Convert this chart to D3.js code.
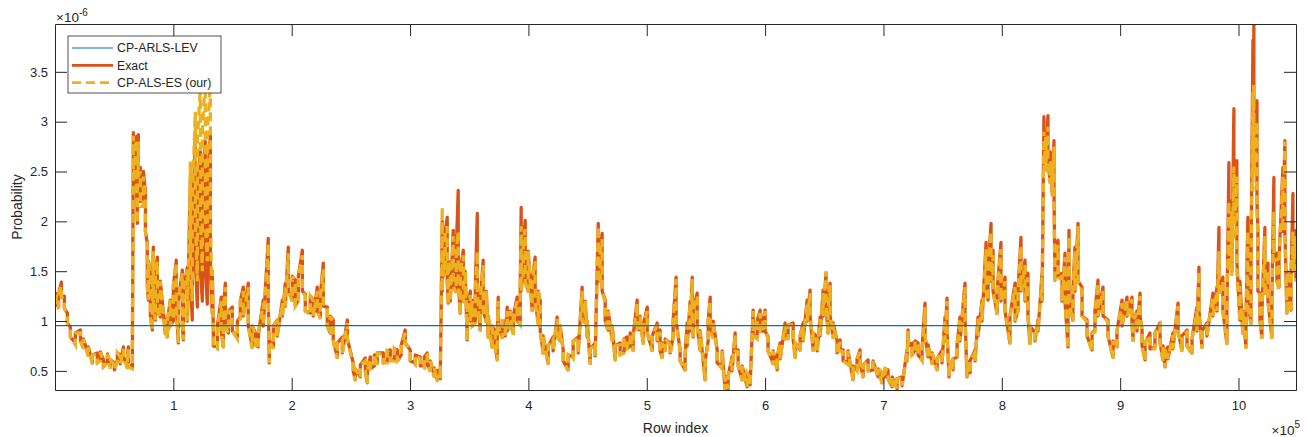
<!DOCTYPE html>
<html>
<head>
<meta charset="utf-8">
<script src="https://cdn.jsdelivr.net/npm/d3@7"></script>
<style>
    body { margin: 0; background: #fff; }
    svg { display: block; font-family: 'Liberation Sans', Arial, sans-serif; }
    .axis path, .axis line { stroke: #262626; }
    .axis text { fill: #262626; font-size: 13px; }
    .label { fill: #262626; }
</style>
</head>
<body>
<svg id="chart"></svg>
<script>
// row index in thousands, probabilities in units of 1e-6
// each column has the value read at that row and the opposite edge of the band
// (the series oscillates so fast that every pixel column is a vertical run)
const rowIndex = [
    1, 3, 5.4, 7.9, 10.5, 13, 17.2, 21.5, 24, 28.2,
    31.6, 35.8, 38.3, 40.9, 44.3, 46.8, 50.2, 52.7, 55.2, 57.8,
    61.2, 62, 65.4, 66.2, 67.9, 68.8, 69.6, 70.4, 72.1, 74.7,
    76.4, 78, 78.9, 80.6, 82.3, 83.1, 84.8, 86.5, 89, 93.2,
    94.9, 97.5, 100, 102.5, 104.2, 107.6, 108.5, 111.8, 114.4, 116,
    118.6, 120.3, 122.8, 124.5, 127, 128.7, 131.3, 132.9, 133.8, 137.2,
    140.5, 142.2, 143.9, 146.5, 149.8, 154.1, 156.6, 159.1, 163.3, 166.7,
    169.3, 171.8, 176, 180.2, 181.1, 184.5, 187.8, 192.1, 194.6, 197.1,
    200.5, 203, 205.6, 209, 211.5, 215.7, 218.3, 221.6, 224.2, 226.7,
    230.1, 232.6, 235.1, 238.5, 242.8, 247, 252, 253.7, 258, 262.2,
    263.9, 266.4, 269.8, 272.3, 277.4, 280.8, 283.3, 286.7, 289.2, 292.6,
    295.9, 300.2, 304.4, 308.6, 312, 314.5, 317.1, 320.5, 323, 325.5,
    327.2, 328, 329.7, 331.4, 332.3, 334, 336.5, 339, 340.7, 342.4,
    345, 346.6, 348.3, 350.9, 352.5, 355.1, 356.8, 359.3, 361.8, 364.4,
    366.1, 369.4, 372, 373.7, 374.5, 377.9, 380.4, 382.1, 384.6, 387.2,
    390.5, 393.1, 393.9, 395.6, 397.3, 399.8, 403.2, 405.7, 408.3, 410,
    412.5, 416.7, 420.9, 424.3, 426.9, 429.4, 433.6, 437.8, 442.1, 445.4,
    448, 449.7, 452.2, 456.4, 459, 460.7, 462.3, 464.9, 467.4, 470.8,
    473.3, 477.5, 480.9, 483.5, 486, 488.5, 491.9, 494.4, 497, 500.4,
    504.6, 508.8, 511.3, 513, 515.6, 519.8, 522.3, 524.8, 528.2, 532.4,
    534.1, 536.7, 538.4, 539.2, 542.6, 545.1, 549.3, 551.9, 553.6, 556.1,
    559.5, 563.7, 566.2, 568.8, 572.1, 574.7, 577.2, 580.6, 584.8, 587.3,
    589.9, 593.3, 595.8, 598.3, 600, 602.5, 606.8, 610.2, 612.7, 616.9,
    619.4, 623.7, 625.4, 629.6, 632.1, 635.5, 638, 640.6, 644, 646.5,
    649, 651.5, 653.2, 654.9, 657.5, 660.8, 663.4, 665.9, 670.1, 674.3,
    677.7, 680.2, 682.8, 687, 691.2, 695.5, 698.8, 701.4, 703.9, 707.3,
    711.5, 715.7, 719.9, 720.8, 724.2, 726.7, 729.2, 732.6, 735.1, 737.7,
    741.1, 745.3, 749.5, 752, 753.7, 755.4, 758.8, 762.2, 764.7, 768.9,
    770.6, 773.2, 777.4, 779.9, 783.3, 786.7, 788.4, 790.9, 792.6, 796,
    799.3, 802.7, 806.9, 811.2, 813.7, 816.2, 819.6, 822.1, 823.8, 828,
    830.6, 834, 835.6, 837.3, 839, 840.7, 842.4, 844.1, 844.9, 847.5,
    850.9, 853.4, 855.9, 856.8, 860.1, 861.8, 864.4, 867.8, 872, 876.2,
    878.7, 881.3, 885.5, 889.7, 894, 897.3, 901.6, 905.8, 910, 910.9,
    914.2, 916.8, 918.5, 921, 925.2, 929.4, 933.7, 936.2, 937.9, 940.4,
    944.6, 948.9, 952.2, 956.5, 960.7, 964.9, 966.6, 969.1, 973.3, 978.4,
    981.8, 983.5, 986.8, 990.2, 991.9, 994.4, 996.1, 998.6, 1001.2, 1003.7,
    1006.3, 1007.9, 1010.5, 1012.2, 1013, 1015.6, 1016.4, 1018.1, 1019.8, 1022.3,
    1024.9, 1028.2, 1029.9, 1032.5, 1034.2, 1037.5, 1039.2, 1040.9, 1044.3, 1046,
    1048.5
]

const exactProb = [
    1.29, 1.14, 1.39, 1.25, 1.08, 0.94, 0.78, 0.91, 0.74, 0.66,
    0.58, 0.68, 0.62, 0.61, 0.60, 0.54, 0.58, 0.61, 0.66, 0.74,
    0.54, 0.74, 0.54, 2.89, 2.6, 2.85, 1.98, 2.87, 2.54, 2.21,
    2.3, 1.78, 1.21, 1.5, 0.91, 1.74, 1.01, 1.64, 1.04, 0.88,
    0.84, 1.21, 1.0, 1.61, 0.78, 1.51, 0.81, 1.54, 2.41, 1.01,
    2.88, 1.14, 2.7, 1.2, 2.8, 1.17, 2.86, 1.08, 0.91, 0.74,
    1.24, 0.74, 1.38, 0.88, 1.14, 0.84, 1.04, 1.34, 1.38, 0.74,
    0.88, 0.74, 1.21, 1.83, 0.58, 0.74, 1.01, 1.21, 1.38, 1.74,
    1.21, 1.41, 1.21, 1.71, 1.27, 1.08, 1.21, 1.34, 1.04, 1.58,
    1.14, 0.88, 1.01, 0.64, 0.84, 1.01, 0.58, 0.41, 0.44, 0.63,
    0.38, 0.64, 0.55, 0.58, 0.68, 0.6, 0.71, 0.62, 0.71, 0.66,
    0.91, 0.71, 0.58, 0.64, 0.55, 0.68, 0.51, 0.45, 0.41, 0.51,
    2.0, 1.74, 1.6, 2.04, 1.18, 1.5, 1.91, 1.3, 2.31, 1.08,
    1.71, 1.2, 0.81, 1.3, 1.21, 1.0, 2.08, 0.91, 1.61, 1.0,
    0.84, 0.74, 0.9, 0.61, 1.24, 0.84, 1.0, 1.14, 0.95, 0.88,
    1.24, 0.98, 2.14, 1.5, 2.01, 1.31, 1.11, 1.64, 0.98, 1.2,
    0.68, 0.58, 0.84, 1.04, 0.8, 0.71, 0.51, 0.64, 0.84, 1.34,
    1.0, 0.84, 0.58, 0.78, 1.98, 1.4, 1.88, 1.21, 0.91, 0.81,
    0.61, 0.78, 0.7, 0.84, 0.75, 0.71, 1.21, 0.91, 0.78, 1.14,
    0.71, 0.98, 0.91, 0.64, 0.71, 0.78, 0.84, 1.44, 0.71, 0.51,
    0.98, 1.2, 1.44, 0.84, 1.28, 0.71, 0.41, 0.8, 1.24, 0.84,
    0.71, 0.54, 0.31, 0.31, 0.64, 0.88, 0.71, 0.41, 0.34, 0.44,
    1.11, 0.84, 1.11, 0.9, 1.11, 0.84, 0.58, 0.51, 0.78, 0.98,
    0.84, 0.98, 0.64, 0.71, 0.98, 1.21, 1.31, 0.71, 0.84, 1.04,
    1.31, 1.48, 0.88, 1.38, 0.84, 0.8, 0.81, 0.71, 0.58, 0.41,
    0.51, 0.71, 0.44, 0.61, 0.51, 0.44, 0.38, 0.44, 0.51, 0.34,
    0.32, 0.44, 0.71, 0.91, 0.78, 0.71, 0.78, 0.61, 1.18, 0.64,
    0.58, 0.51, 0.71, 1.04, 1.23, 0.44, 0.51, 0.64, 1.04, 1.38,
    0.44, 0.48, 0.71, 1.04, 1.21, 1.79, 1.21, 1.98, 1.71, 1.08,
    1.79, 1.44, 0.78, 1.38, 1.11, 1.84, 1.61, 1.48, 0.78, 0.88,
    1.01, 1.48, 3.05, 2.9, 3.06, 2.41, 2.6, 2.81, 1.41, 1.81,
    1.48, 1.68, 0.74, 1.91, 1.01, 1.74, 1.98, 1.34, 1.01, 0.71,
    0.91, 1.41, 1.34, 1.01, 0.64, 0.74, 1.21, 1.24, 1.24, 0.81,
    1.1, 1.28, 0.91, 0.61, 0.88, 0.74, 0.98, 0.61, 0.54, 0.74,
    0.88, 1.18, 0.71, 0.91, 0.68, 1.14, 1.54, 0.74, 0.98, 1.28,
    1.34, 1.94, 1.44, 0.78, 2.59, 2.21, 3.13, 2.61, 1.01, 0.88,
    0.74, 2.04, 0.98, 3.82, 3.98, 3.21, 1.91, 1.28, 0.84, 1.94,
    1.58, 0.84, 2.44, 1.68, 1.34, 2.54, 2.81, 1.08, 1.11, 2.28,
    1.91
]

const exactProbEdge = [
    1.18, 1.27, 1.24, 1.13, 0.98, 0.84, 0.88, 0.80, 0.82, 0.74,
    0.66, 0.58, 0.69, 0.54, 0.67, 0.61, 0.51, 0.68, 0.57, 0.64,
    0.66, 0.56, 0.72, 2.5, 2.8, 2.4, 2.4, 2.5, 2.2, 2.5,
    1.9, 1.35, 1.6, 1.05, 1.3, 1.2, 1.5, 1.1, 1.4, 1.02,
    1.0, 0.95, 1.35, 1.15, 1.2, 0.95, 1.3, 1.0, 1.4, 1.9,
    1.6, 2.3, 1.5, 2.4, 1.5, 2.4, 1.5, 1.5, 0.75, 0.95,
    0.9, 1.1, 0.95, 1.1, 0.9, 1.0, 1.2, 1.05, 0.95, 0.95,
    0.76, 0.86, 0.95, 1.2, 0.8, 0.95, 0.85, 1.05, 1.15, 1.3,
    1.45, 1.15, 1.45, 1.3, 1.1, 1.25, 1.05, 1.1, 1.25, 1.15,
    0.95, 1.05, 0.8, 0.78, 0.68, 0.82, 0.5, 0.52, 0.56, 0.5,
    0.5, 0.52, 0.66, 0.68, 0.58, 0.7, 0.6, 0.72, 0.6, 0.76,
    0.78, 0.6, 0.66, 0.55, 0.64, 0.56, 0.6, 0.53, 0.5, 0.42,
    1.3, 1.45, 1.9, 1.4, 1.6, 1.2, 1.35, 1.7, 1.4, 1.5,
    1.2, 1.5, 1.1, 1.0, 0.95, 1.3, 1.3, 1.2, 1.1, 1.3,
    1.05, 0.95, 0.75, 0.85, 0.95, 1.0, 0.85, 0.9, 1.1, 1.05,
    1.0, 1.3, 1.3, 1.8, 1.4, 1.7, 1.4, 1.2, 1.3, 0.9,
    0.85, 0.75, 0.7, 0.85, 0.95, 0.6, 0.66, 0.8, 0.68, 1.0,
    1.2, 1.0, 0.72, 0.65, 1.4, 1.7, 1.3, 1.0, 1.1, 0.95,
    0.75, 0.66, 0.82, 0.72, 0.88, 0.85, 0.92, 1.05, 0.95, 0.88,
    0.85, 0.8, 0.7, 0.78, 0.82, 0.68, 1.0, 1.0, 0.6, 0.66,
    0.75, 0.9, 1.0, 1.1, 0.95, 0.9, 0.6, 1.0, 0.9, 1.0,
    0.58, 0.7, 0.45, 0.45, 0.5, 0.7, 0.55, 0.55, 0.48, 0.36,
    0.85, 1.0, 0.9, 1.0, 0.9, 0.7, 0.7, 0.64, 0.62, 0.82,
    0.96, 0.82, 0.78, 0.85, 0.8, 1.0, 1.05, 0.88, 0.7, 0.85,
    1.05, 1.15, 1.1, 1.05, 0.98, 0.68, 0.7, 0.6, 0.7, 0.55,
    0.62, 0.58, 0.56, 0.5, 0.6, 0.52, 0.48, 0.52, 0.42, 0.44,
    0.42, 0.35, 0.6, 0.75, 0.66, 0.8, 0.66, 0.72, 0.85, 0.76,
    0.68, 0.62, 0.58, 0.8, 0.9, 0.6, 0.62, 0.76, 0.8, 1.05,
    0.6, 0.6, 0.6, 0.85, 1.0, 1.3, 1.5, 1.4, 1.3, 1.3,
    1.2, 1.1, 1.05, 1.0, 1.3, 1.3, 1.2, 1.05, 0.95, 0.8,
    0.9, 1.2, 2.6, 2.6, 2.6, 2.7, 2.3, 2.3, 1.7, 1.45,
    1.2, 1.2, 1.1, 1.2, 1.3, 1.3, 1.4, 1.05, 0.85, 0.88,
    1.1, 1.05, 1.05, 0.85, 0.8, 0.9, 0.95, 1.05, 0.98, 1.0,
    0.9, 1.05, 0.75, 0.78, 0.72, 0.88, 0.78, 0.75, 0.7, 0.62,
    0.72, 0.9, 0.85, 0.75, 0.82, 0.9, 1.1, 0.9, 0.85, 1.05,
    1.1, 1.3, 1.1, 1.1, 1.6, 1.5, 2.0, 1.6, 1.4, 1.1,
    1.0, 1.2, 1.5, 2.5, 2.7, 2.2, 1.3, 1.0, 1.1, 1.3,
    1.2, 1.2, 1.6, 1.4, 1.6, 1.9, 1.9, 1.5, 1.4, 1.5,
    1.4
]

const esProb = [
    1.26, 1.12, 1.35, 1.22, 1.05, 0.92, 0.76, 0.88, 0.72, 0.64,
    0.56, 0.66, 0.6, 0.59, 0.58, 0.52, 0.56, 0.59, 0.64, 0.72,
    0.52, 0.72, 0.52, 2.86, 2.55, 2.82, 1.98, 2.8, 2.5, 2.15,
    2.25, 1.75, 1.21, 1.45, 0.91, 1.7, 1.01, 1.6, 1.04, 0.86,
    0.82, 1.21, 1.0, 1.58, 0.78, 1.48, 0.81, 1.52, 2.6, 1.2,
    3.1, 1.4, 3.35, 1.5, 3.45, 1.6, 3.38, 1.08, 0.91, 0.72,
    1.2, 0.72, 1.34, 0.88, 1.1, 0.82, 1.02, 1.3, 1.34, 0.72,
    0.86, 0.72, 1.18, 1.78, 0.58, 0.72, 1.0, 1.18, 1.34, 1.68,
    1.2, 1.38, 1.2, 1.66, 1.25, 1.06, 1.2, 1.3, 1.02, 1.52,
    1.12, 0.86, 0.98, 0.62, 0.82, 0.98, 0.56, 0.4, 0.43, 0.6,
    0.37, 0.62, 0.53, 0.56, 0.66, 0.58, 0.68, 0.6, 0.68, 0.64,
    0.88, 0.69, 0.56, 0.62, 0.53, 0.66, 0.49, 0.43, 0.39, 0.5,
    2.14, 1.7, 1.58, 1.95, 1.16, 1.46, 1.85, 1.28, 1.9, 1.06,
    1.66, 1.18, 0.8, 1.26, 1.2, 0.98, 1.7, 0.9, 1.56, 0.98,
    0.82, 0.72, 0.88, 0.6, 1.2, 0.82, 0.98, 1.1, 0.93, 0.86,
    1.2, 0.96, 1.95, 1.46, 1.92, 1.28, 1.09, 1.6, 0.96, 1.18,
    0.66, 0.56, 0.82, 1.02, 0.78, 0.69, 0.5, 0.62, 0.82, 1.3,
    0.98, 0.82, 0.56, 0.76, 1.95, 1.38, 1.82, 1.18, 0.89, 0.79,
    0.6, 0.76, 0.68, 0.82, 0.73, 0.69, 1.18, 0.89, 0.76, 1.1,
    0.69, 0.96, 0.89, 0.62, 0.69, 0.76, 0.82, 1.42, 0.69, 0.5,
    0.96, 1.18, 1.42, 0.82, 1.25, 0.69, 0.4, 0.78, 1.2, 0.82,
    0.69, 0.52, 0.31, 0.32, 0.62, 0.86, 0.69, 0.4, 0.34, 0.43,
    1.1, 0.82, 1.08, 0.88, 1.1, 0.82, 0.56, 0.5, 0.76, 0.96,
    0.82, 0.96, 0.62, 0.69, 0.96, 1.18, 1.28, 0.69, 0.82, 1.02,
    1.28, 1.5, 0.86, 1.36, 0.82, 0.78, 0.79, 0.69, 0.56, 0.4,
    0.5, 0.69, 0.43, 0.6, 0.5, 0.43, 0.37, 0.43, 0.5, 0.33,
    0.32, 0.43, 0.69, 0.9, 0.76, 0.69, 0.76, 0.6, 1.14, 0.62,
    0.56, 0.5, 0.69, 1.02, 1.2, 0.43, 0.5, 0.62, 1.02, 1.34,
    0.43, 0.47, 0.69, 1.02, 1.18, 1.72, 1.2, 1.9, 1.66, 1.06,
    1.72, 1.4, 0.76, 1.34, 1.09, 1.75, 1.56, 1.44, 0.76, 0.86,
    0.99, 1.44, 2.9, 2.85, 2.95, 2.38, 2.55, 2.75, 1.38, 1.76,
    1.45, 1.64, 0.72, 1.85, 0.99, 1.7, 1.95, 1.3, 0.99, 0.69,
    0.89, 1.38, 1.3, 0.99, 0.62, 0.72, 1.18, 1.22, 1.22, 0.79,
    1.08, 1.25, 0.89, 0.6, 0.86, 0.72, 0.96, 0.6, 0.53, 0.72,
    0.86, 1.15, 0.69, 0.89, 0.66, 1.1, 1.5, 0.72, 0.96, 1.24,
    1.3, 1.7, 1.4, 0.76, 2.2, 2.1, 2.55, 2.45, 0.99, 0.86,
    0.72, 1.9, 0.96, 3.3, 3.38, 3.0, 1.85, 1.25, 0.82, 1.85,
    1.5, 0.82, 2.1, 1.62, 1.3, 2.45, 2.8, 1.06, 1.08, 1.9,
    1.85
]

const esProbEdge = [
    1.18, 1.27, 1.24, 1.13, 0.98, 0.84, 0.88, 0.80, 0.82, 0.74,
    0.66, 0.58, 0.69, 0.54, 0.67, 0.61, 0.51, 0.68, 0.57, 0.64,
    0.64, 0.54, 0.7, 2.45, 2.75, 2.35, 2.35, 2.45, 2.15, 2.45,
    1.9, 1.35, 1.6, 1.05, 1.3, 1.2, 1.5, 1.1, 1.4, 1.02,
    1.0, 0.95, 1.35, 1.15, 1.2, 0.95, 1.3, 1.0, 1.5, 2.2,
    2.0, 2.8, 2.0, 2.9, 2.0, 2.9, 2.0, 1.5, 0.74, 0.93,
    0.9, 1.1, 0.95, 1.1, 0.9, 1.0, 1.2, 1.05, 0.95, 0.95,
    0.76, 0.86, 0.95, 1.2, 0.8, 0.95, 0.85, 1.05, 1.15, 1.3,
    1.45, 1.15, 1.45, 1.3, 1.1, 1.25, 1.05, 1.1, 1.25, 1.15,
    0.95, 1.05, 0.8, 0.78, 0.68, 0.82, 0.5, 0.52, 0.56, 0.5,
    0.5, 0.52, 0.66, 0.68, 0.58, 0.7, 0.6, 0.72, 0.6, 0.76,
    0.78, 0.6, 0.66, 0.55, 0.64, 0.56, 0.6, 0.53, 0.5, 0.42,
    1.3, 1.45, 1.9, 1.4, 1.6, 1.2, 1.35, 1.7, 1.4, 1.5,
    1.2, 1.5, 1.1, 1.0, 0.95, 1.3, 1.3, 1.2, 1.1, 1.3,
    1.05, 0.95, 0.75, 0.85, 0.95, 1.0, 0.85, 0.9, 1.1, 1.05,
    1.0, 1.3, 1.3, 1.8, 1.4, 1.7, 1.4, 1.2, 1.3, 0.9,
    0.85, 0.75, 0.7, 0.85, 0.95, 0.6, 0.66, 0.8, 0.68, 1.0,
    1.2, 1.0, 0.72, 0.65, 1.4, 1.7, 1.3, 1.0, 1.1, 0.95,
    0.75, 0.66, 0.82, 0.72, 0.88, 0.85, 0.92, 1.05, 0.95, 0.88,
    0.85, 0.8, 0.7, 0.78, 0.82, 0.68, 1.0, 1.0, 0.6, 0.66,
    0.75, 0.9, 1.0, 1.1, 0.95, 0.9, 0.6, 1.0, 0.9, 1.0,
    0.58, 0.7, 0.45, 0.45, 0.5, 0.7, 0.55, 0.55, 0.48, 0.36,
    0.85, 1.0, 0.9, 1.0, 0.9, 0.7, 0.7, 0.64, 0.62, 0.82,
    0.96, 0.82, 0.78, 0.85, 0.8, 1.0, 1.05, 0.88, 0.7, 0.85,
    1.05, 1.15, 1.1, 1.05, 0.98, 0.68, 0.7, 0.6, 0.7, 0.55,
    0.62, 0.58, 0.56, 0.5, 0.6, 0.52, 0.48, 0.52, 0.42, 0.44,
    0.42, 0.35, 0.6, 0.75, 0.66, 0.8, 0.66, 0.72, 0.85, 0.76,
    0.68, 0.62, 0.58, 0.8, 0.9, 0.6, 0.62, 0.76, 0.8, 1.05,
    0.6, 0.6, 0.6, 0.85, 1.0, 1.3, 1.5, 1.4, 1.3, 1.3,
    1.2, 1.1, 1.05, 1.0, 1.3, 1.3, 1.2, 1.05, 0.95, 0.8,
    0.9, 1.2, 2.5, 2.5, 2.5, 2.6, 2.25, 2.25, 1.65, 1.42,
    1.2, 1.2, 1.1, 1.2, 1.3, 1.3, 1.4, 1.05, 0.85, 0.88,
    1.1, 1.05, 1.05, 0.85, 0.8, 0.9, 0.95, 1.05, 0.98, 1.0,
    0.9, 1.05, 0.75, 0.78, 0.72, 0.88, 0.78, 0.75, 0.7, 0.62,
    0.72, 0.9, 0.85, 0.75, 0.82, 0.9, 1.1, 0.9, 0.85, 1.05,
    1.1, 1.25, 1.1, 1.1, 1.5, 1.45, 1.8, 1.5, 1.35, 1.1,
    1.0, 1.15, 1.45, 2.3, 2.5, 2.1, 1.3, 1.0, 1.1, 1.25,
    1.2, 1.2, 1.6, 1.4, 1.6, 1.9, 1.9, 1.5, 1.4, 1.5,
    1.4
]

// uniform leverage-score probability 1/2^20
const levProb = 0.954
const rowCount = 1048576

const xTicks = [1, 2, 3, 4, 5, 6, 7, 8, 9, 10]
const yTicks = [0.5, 1, 1.5, 2, 2.5, 3, 3.5]
const seriesNames = ['CP-ARLS-LEV', 'Exact', 'CP-ALS-ES (our)']

class ProbabilityChart {

    constructor(_config, _data) {
        this.config = {
            parentElement: _config.parentElement,
            containerWidth: _config.containerWidth || 1307,
            containerHeight: _config.containerHeight || 437,
            margin: { top: 24, right: 11, bottom: 47, left: 55 }
        }

        this.data = _data

        this.initVis()
    }

    initVis() {
        let vis = this

        vis.width = vis.config.containerWidth - vis.config.margin.left - vis.config.margin.right
        vis.height = vis.config.containerHeight - vis.config.margin.top - vis.config.margin.bottom

        vis.colors = { lev: '#0072BD', exact: '#D95319', es: '#EDB120' }
        vis.seriesWidth = 3.3

        vis.svg = d3.select(vis.config.parentElement)
            .attr('width', vis.config.containerWidth)
            .attr('height', vis.config.containerHeight)

        vis.chart = vis.svg.append('g')
            .attr('transform', `translate(${vis.config.margin.left}, ${vis.config.margin.top})`)

        vis.chart.append('clipPath')
            .attr('id', 'plot-clip')
            .append('rect')
                .attr('width', vis.width)
                .attr('height', vis.height)

        vis.xScale = d3.scaleLinear()
            .domain([1, rowCount])
            .range([0, vis.width])

        vis.yScale = d3.scaleLinear()
            .range([vis.height, 0])

        vis.xAxis = d3.axisBottom(vis.xScale)
            .tickValues(xTicks.map(d => d * 1e5))
            .tickFormat(d => d / 1e5)
            .tickSizeInner(-12)
            .tickSizeOuter(0)
            .tickPadding(11)

        vis.yAxis = d3.axisLeft(vis.yScale)
            .tickValues(yTicks)
            .tickFormat(d => d)
            .tickSizeInner(-12)
            .tickSizeOuter(0)
            .tickPadding(7)

        vis.xAxisTop = d3.axisTop(vis.xScale)
            .tickValues(xTicks.map(d => d * 1e5))
            .tickFormat('')
            .tickSizeInner(-12)
            .tickSizeOuter(0)

        vis.yAxisRight = d3.axisRight(vis.yScale)
            .tickValues(yTicks)
            .tickFormat('')
            .tickSizeInner(-12)
            .tickSizeOuter(0)

        vis.lineGroup = vis.chart.append('g')
            .attr('clip-path', 'url(#plot-clip)')

        vis.xAxisGroup = vis.chart.append('g')
            .attr('class', 'axis x-axis')
            .attr('transform', `translate(0, ${vis.height})`)

        vis.yAxisGroup = vis.chart.append('g')
            .attr('class', 'axis y-axis')

        vis.xAxisTopGroup = vis.chart.append('g')
            .attr('class', 'axis')

        vis.yAxisRightGroup = vis.chart.append('g')
            .attr('class', 'axis')
            .attr('transform', `translate(${vis.width}, 0)`)

        // axis labels and exponent markers
        vis.svg.append('text')
            .attr('class', 'label')
            .attr('x', vis.config.margin.left + vis.width / 2)
            .attr('y', 433)
            .attr('text-anchor', 'middle')
            .attr('font-size', 14)
            .text('Row index')

        vis.svg.append('text')
            .attr('class', 'label')
            .attr('transform', `translate(22, ${vis.config.margin.top + vis.height / 2}) rotate(-90)`)
            .attr('text-anchor', 'middle')
            .attr('font-size', 14)
            .text('Probability')

        let expTop = vis.svg.append('text')
            .attr('class', 'label')
            .attr('x', 56)
            .attr('y', 22)
            .attr('font-size', 13.5)
        expTop.append('tspan').text('\u00d710')
        expTop.append('tspan').attr('dy', -6).attr('font-size', 10).text('-6')

        let expBottom = vis.svg.append('text')
            .attr('class', 'label')
            .attr('x', 1300)
            .attr('y', 435)
            .attr('text-anchor', 'end')
            .attr('font-size', 13.5)
        expBottom.append('tspan').text('\u00d710')
        expBottom.append('tspan').attr('dy', -7).attr('font-size', 10).text('5')
    }

    updateVis() {
        let vis = this

        vis.xValue = d => d.row
        vis.yValue = d => d.p

        let allValues = vis.data.exact.concat(vis.data.es).map(vis.yValue)
        vis.yScale.domain([d3.min(allValues) - 0.002, d3.max(allValues)])

        vis.line = d3.line()
            .x(d => vis.xScale(vis.xValue(d)))
            .y(d => vis.yScale(vis.yValue(d)))

        vis.renderVis()
    }

    renderVis() {
        let vis = this

        vis.lineGroup.append('path')
            .datum(vis.data.exact)
            .attr('fill', 'none')
            .attr('stroke', vis.colors.exact)
            .attr('stroke-width', vis.seriesWidth)
            .attr('stroke-linejoin', 'round')
            .attr('d', vis.line)

        vis.lineGroup.append('path')
            .datum(vis.data.es)
            .attr('fill', 'none')
            .attr('stroke', vis.colors.es)
            .attr('stroke-width', vis.seriesWidth)
            .attr('stroke-dasharray', '9,5')
            .attr('d', vis.line)

        vis.lineGroup.append('path')
            .datum(vis.data.lev)
            .attr('fill', 'none')
            .attr('stroke', vis.colors.lev)
            .attr('stroke-width', 1.2)
            .attr('d', vis.line)

        vis.xAxisGroup.call(vis.xAxis)
        vis.yAxisGroup.call(vis.yAxis)
        vis.xAxisTopGroup.call(vis.xAxisTop)
        vis.yAxisRightGroup.call(vis.yAxisRight)

        vis.chart.selectAll('.axis text').attr('font-size', null).attr('font-family', null)

        // legend
        let legend = vis.svg.append('g')
            .attr('transform', 'translate(68, 36)')

        legend.append('rect')
            .attr('width', 153)
            .attr('height', 57)
            .attr('fill', '#fff')
            .attr('stroke', '#262626')
            .attr('stroke-width', 0.8)

        let styles = [
            { color: vis.colors.lev, width: 1.2, dash: null },
            { color: vis.colors.exact, width: 2.8, dash: null },
            { color: vis.colors.es, width: 2.8, dash: '9,5' }
        ]

        let rows = legend.selectAll('.legend-row')
            .data(seriesNames)
            .join('g')
                .attr('class', 'legend-row')
                .attr('transform', (d, i) => `translate(0, ${12 + i * 17.3})`)

        rows.append('line')
            .attr('x1', 4)
            .attr('x2', 45)
            .attr('stroke', (d, i) => styles[i].color)
            .attr('stroke-width', (d, i) => styles[i].width)
            .attr('stroke-dasharray', (d, i) => styles[i].dash)

        rows.append('text')
            .attr('class', 'label')
            .attr('x', 49)
            .attr('dy', '0.35em')
            .attr('font-size', 12.3)
            .text(d => d)
    }
}

// each column is drawn as a vertical run: read value, then the opposite band edge
let toColumns = (vals, edges) => rowIndex.flatMap((r, i) => [
    { row: r * 1000, p: vals[i] },
    { row: r * 1000, p: edges[i] }
])

let chartData = {
    exact: toColumns(exactProb, exactProbEdge),
    es: toColumns(esProb, esProbEdge),
    lev: [{ row: 1, p: levProb }, { row: rowCount, p: levProb }]
}

let chart = new ProbabilityChart({ parentElement: '#chart' }, chartData)
chart.updateVis()
</script>
</body>
</html>
